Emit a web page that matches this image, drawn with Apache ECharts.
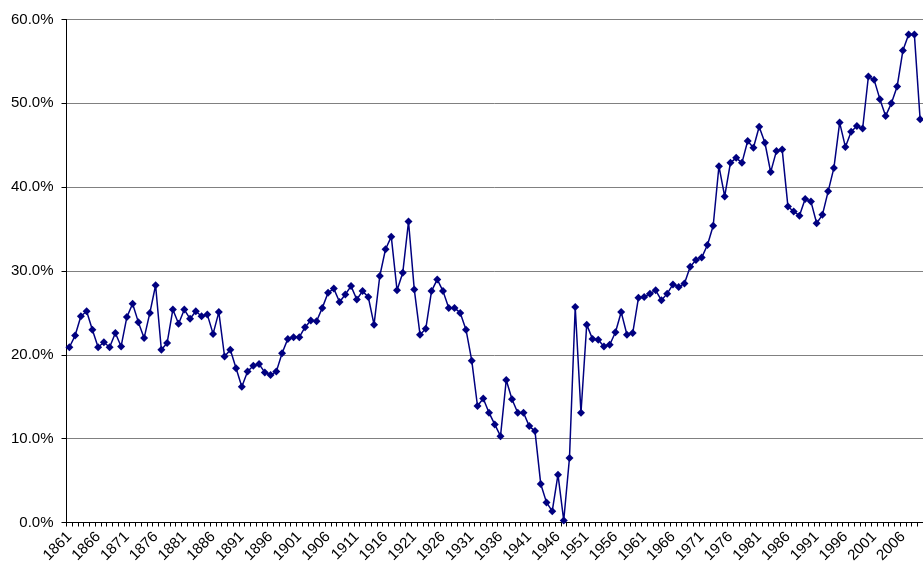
<!DOCTYPE html>
<html>
<head>
<meta charset="utf-8">
<script src="https://cdn.jsdelivr.net/npm/echarts@6/dist/echarts.min.js"></script>
<style>
html,body{margin:0;padding:0;background:#fff;}
#chart{width:923px;height:575px;}
</style>
</head>
<body>
<div id="chart"></div>
<script>
var startYear = 1861;
var endYear = 2009;
var years = [];
for (var y = startYear; y <= endYear; y++) years.push(String(y));

var values1861to1897 = [20.9, 22.3, 24.6, 25.2, 23.0, 20.9, 21.5, 20.9, 22.6, 21.0, 24.5, 26.1, 23.9, 22.0, 25.0, 28.3, 20.6, 21.4, 25.4, 23.7, 25.4, 24.3, 25.2, 24.6, 24.8, 22.5, 25.1, 19.8, 20.6, 18.4, 16.2, 18.0, 18.7, 18.9, 17.9, 17.6, 18.0];
var values1898to1931 = [20.2, 21.9, 22.1, 22.1, 23.3, 24.1, 24.0, 25.6, 27.4, 27.9, 26.3, 27.2, 28.2, 26.6, 27.6, 26.9, 23.6, 29.4, 32.6, 34.1, 27.7, 29.8, 35.9, 27.8, 22.4, 23.1, 27.6, 29.0, 27.6, 25.6, 25.6, 25.0, 23.0, 19.3];
var values1932to1960 = [13.9, 14.8, 13.1, 11.7, 10.3, 17.0, 14.7, 13.1, 13.1, 11.5, 10.9, 4.6, 2.4, 1.35, 5.7, 0.24, 7.7, 25.7, 13.1, 23.6, 21.9, 21.8, 21.0, 21.2, 22.7, 25.1, 22.4, 22.6, 26.8];
var values1961to1981 = [26.9, 27.3, 27.7, 26.5, 27.3, 28.4, 28.1, 28.5, 30.5, 31.3, 31.6, 33.1, 35.4, 42.5, 38.9, 42.9, 43.5, 42.9, 45.5, 44.7, 47.2];
var values1982to2009 = [45.3, 41.8, 44.3, 44.5, 37.7, 37.1, 36.6, 38.6, 38.3, 35.7, 36.7, 39.5, 42.3, 47.7, 44.8, 46.6, 47.3, 47.0, 53.2, 52.8, 50.5, 48.5, 50.0, 52.0, 56.3, 58.2, 58.2, 48.1];

var values = [].concat(values1861to1897, values1898to1931, values1932to1960, values1961to1981, values1982to2009);

var yMin = 0, yMax = 60, yStep = 10;

var chart = echarts.init(document.getElementById('chart'), null, {renderer: 'canvas'});
chart.setOption({
  backgroundColor: '#ffffff',
  animation: false,
  grid: { left: 66.5, top: 19.5, width: 860, height: 503, containLabel: false },
  xAxis: {
    type: 'category',
    data: years,
    boundaryGap: true,
    axisLine: { show: true, lineStyle: { color: '#000', width: 1 } },
    axisTick: { show: true, interval: 0, length: 4, alignWithLabel: false, lineStyle: { color: '#000' } },
    axisLabel: {
      interval: 4,
      rotate: 45,
      margin: 12,
      color: '#000',
      fontFamily: 'Liberation Sans, Arial, sans-serif',
      fontSize: 15
    },
    splitLine: { show: false }
  },
  yAxis: {
    type: 'value',
    min: yMin,
    max: yMax,
    interval: yStep,
    axisLine: { show: true, lineStyle: { color: '#000', width: 1 } },
    axisTick: { show: true, length: 5, lineStyle: { color: '#000' } },
    axisLabel: {
      margin: 13,
      color: '#000',
      fontFamily: 'Liberation Sans, Arial, sans-serif',
      fontSize: 15,
      formatter: function (v) { return v.toFixed(1) + '%'; }
    },
    splitLine: { show: true, lineStyle: { color: '#808080', width: 1 } }
  },
  series: [{
    type: 'line',
    data: values,
    symbol: 'diamond',
    symbolSize: [8, 8],
    showAllSymbol: true,
    itemStyle: { color: '#000080' },
    lineStyle: { color: '#000080', width: 1.5 },
    clip: false
  }]
});
</script>
</body>
</html>
